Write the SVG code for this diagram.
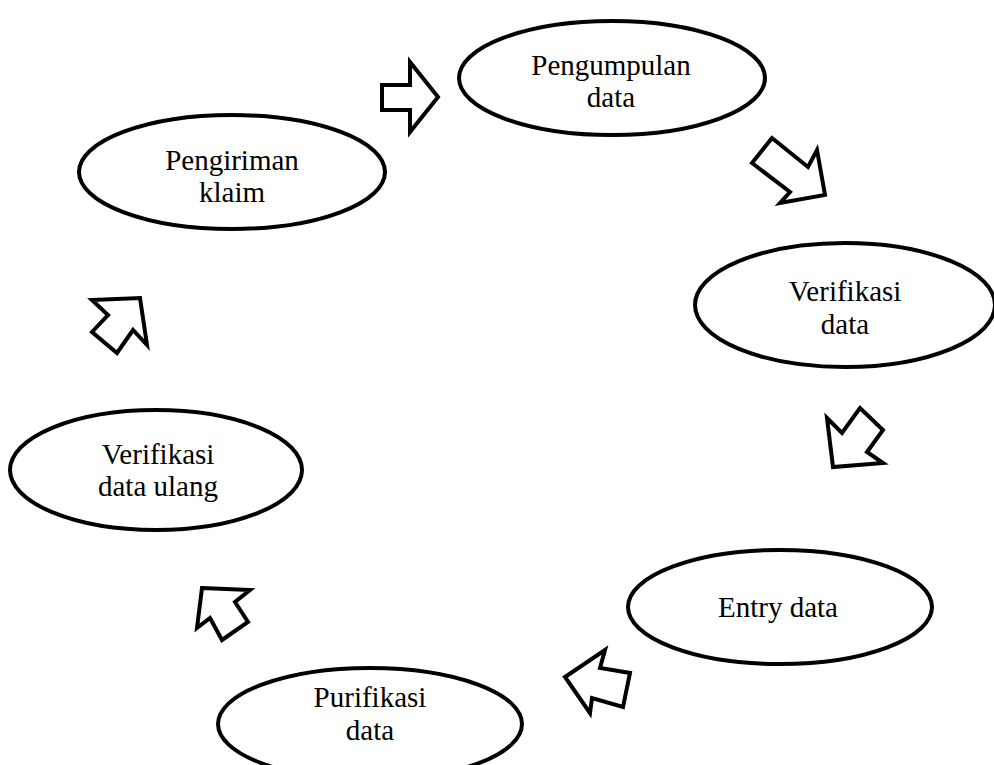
<svg xmlns="http://www.w3.org/2000/svg" width="994" height="765" viewBox="0 0 994 765">
<style>
.n ellipse{fill:#fff;stroke:#000;stroke-width:4}
.n text{font-family:"Liberation Serif","Times New Roman",serif;font-size:29px;fill:#000;text-anchor:middle}
.c polygon{fill:#fff;stroke:#000;stroke-width:4;stroke-linejoin:miter}
</style>
<rect width="994" height="765" fill="#fff"/>
<g class="c" id="connectors">
<polygon points="382,85 410,85 410,62 438,97 410,132 410,110 382,110"/>
<polygon points="752,163 772,138 808,167 817,150 825,195 780,203 790,192"/>
<polygon points="827,418 842,433 860,408 883,430 867,452 883,463 833,467"/>
<polygon points="565,677 605,650 600,668 630,673 623,707 592,698 590,713"/>
<polygon points="202,588 250,590 235,602 248,622 222,640 210,618 197,628"/>
<polygon points="92,300 140,298 147,345 133,330 117,353 92,332 108,315"/>
</g>
<g class="n" id="n1"><ellipse cx="612" cy="78" rx="153" ry="57"/><text x="611" y="75">Pengumpulan</text><text x="611" y="107">data</text></g>
<g class="n" id="n2"><ellipse cx="845" cy="305" rx="150" ry="62"/><text x="845" y="301">Verifikasi</text><text x="845" y="334">data</text></g>
<g class="n" id="n3"><ellipse cx="780" cy="607" rx="152" ry="57"/><text x="778" y="617">Entry data</text></g>
<g class="n" id="n4"><ellipse cx="370" cy="724" rx="152" ry="56"/><text x="370" y="707">Purifikasi</text><text x="370" y="740">data</text></g>
<g class="n" id="n5"><ellipse cx="156" cy="470" rx="146" ry="60"/><text x="158" y="464">Verifikasi</text><text x="158" y="496">data ulang</text></g>
<g class="n" id="n6"><ellipse cx="232" cy="172" rx="153" ry="57"/><text x="232" y="170">Pengiriman</text><text x="232" y="202">klaim</text></g>
</svg>
